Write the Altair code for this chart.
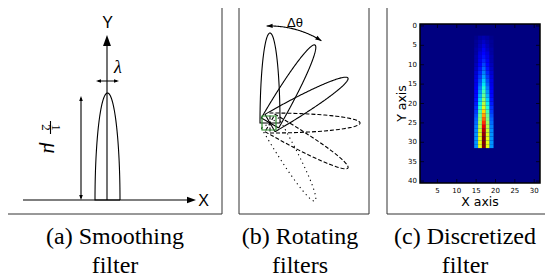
import math
import altair as alt
import pandas as pd

# ---------------- captions ----------------
cap_line1 = ["(a) Smoothing", "(b) Rotating", "(c) Discretized"]
cap_line2 = ["filter", "filters", "filter"]
cap_centers = [115.0, 300.0, 465.0]
cap_rows = [237.0, 266.0]

# ---------------- panel frames (page px) ----------------
frame_left = [7, 239, 387]
frame_right = [222, 369, 580]
frame_top = [7, 7, 7]
frame_bottom = [214, 214, 214]

# ---------------- panel (a): smoothing filter ----------------
a_origin = [107.0, 200.0]
a_xaxis_start = 23.0
a_xaxis_tip = 196.0
a_yaxis_tip = 35.0
a_lobe_base = [107.5, 200.0]
a_lobe_len = 107.0
a_lobe_hw = 12.5
a_lambda_arrow = [96.0, 119.0, 81.0]   # x0, x1, y
a_mu_arrow = [81.0, 96.0, 200.0]       # x, y0, y1

# ---------------- panel (b): rotating filters ----------------
b_pivot = [270.0, 123.0]
b_angles = [90, 60, 30, 0, -30, -60]
b_dash = ["solid", "solid", "solid", "dashed", "dashed", "dotted"]
b_len = 90.0
b_hw = 10.0
b_arc_r = 97.0
b_arc_from = 92.0
b_arc_to = 58.0
b_cell = [262.0, 116.0, 276.0, 130.0]

# ---------------- panel (c): discretized filter ----------------
heat_ncols = 31
heat_nrows = 41
heat_cols = [15, 16, 17, 18, 19]
heat_row0 = 3
heat_outer = [0.01, 0.02, 0.02, 0.03, 0.03, 0.04, 0.04, 0.05, 0.06, 0.07, 0.08, 0.09, 0.09, 0.10, 0.11,
              0.13, 0.14, 0.15, 0.17, 0.18, 0.20, 0.22, 0.23, 0.25, 0.26, 0.27, 0.27, 0.27, 0.27]
heat_inner = [0.03, 0.04, 0.05, 0.06, 0.08, 0.09, 0.10, 0.12, 0.14, 0.16, 0.18, 0.20, 0.22, 0.25, 0.27,
              0.30, 0.33, 0.36, 0.39, 0.43, 0.47, 0.50, 0.54, 0.57, 0.60, 0.62, 0.63, 0.63, 0.63]
heat_center = [0.04, 0.06, 0.08, 0.10, 0.12, 0.14, 0.16, 0.19, 0.22, 0.25, 0.28, 0.32, 0.35, 0.39, 0.43,
               0.47, 0.52, 0.57, 0.62, 0.68, 0.74, 0.80, 0.86, 0.91, 0.95, 0.98, 1.00, 1.00, 1.00]
heat_profiles = [heat_outer, heat_inner, heat_center, heat_inner, heat_outer]
heat_xticks = [5, 10, 15, 20, 25, 30]
heat_yticks = [0, 5, 10, 15, 20, 25, 30, 35, 40]
heat_xtitle = "X axis"
heat_ytitle = "Y axis"

jet_stops = [0.0, 0.11, 0.125, 0.34, 0.35, 0.375, 0.64, 0.65, 0.66, 0.89, 0.91, 1.0]
jet_colors = ["#000080", "#0000ff", "#0000ff", "#00dbff", "#00e5f7", "#14ffe2",
              "#eeff08", "#f7f500", "#ffec00", "#ff1300", "#e80000", "#800000"]

W, H = 537, 270
PX = alt.Scale(domain=[8, 8 + W], range=[0, W], nice=False, zero=False)
PY = alt.Scale(domain=[8, 8 + H], range=[0, H], nice=False, zero=False)


def half_ellipse(bx, by, length, hw, ang_deg, n=72):
    a = math.radians(ang_deg)
    d = (math.cos(a), -math.sin(a))
    p = (math.sin(a), math.cos(a))
    pts = []
    for k in range(n + 1):
        t = math.pi * k / n
        u = hw * math.cos(t)
        v = length * math.sin(t)
        pts.append((bx + u * p[0] + v * d[0], by + u * p[1] + v * d[1]))
    pts.append(pts[0])
    return pts


line_rows = []


def add_line(name, pts, dash="solid"):
    for i, (x, y) in enumerate(pts):
        line_rows.append(dict(shape=name, i=i, x=x, y=y, dash=dash))


head_rows = []


def add_head(x, y, ang, length):
    head_rows.append(dict(x=x, y=y, ang=ang % 360, sz=(2 * length) ** 2))


# panel a lines
ox, oy = a_origin
add_line("a_x", [(a_xaxis_start, oy), (a_xaxis_tip - 4, oy)])
add_head(a_xaxis_tip, oy, 90, 9)
add_line("a_y", [(ox, oy), (ox, a_yaxis_tip + 5)])
add_head(ox, a_yaxis_tip, 0, 11)
add_line("a_lobe", half_ellipse(a_lobe_base[0], a_lobe_base[1], a_lobe_len, a_lobe_hw, 90))
lx0, lx1, ly = a_lambda_arrow
add_line("a_lam", [(lx0 + 2, ly), (lx1 - 2, ly)])
add_head(lx0, ly, 270, 5)
add_head(lx1, ly, 90, 5)
mx, my0, my1 = a_mu_arrow
add_line("a_mu", [(mx, my0 + 2), (mx, my1 - 2)])
add_head(mx, my0, 0, 5)
add_head(mx, my1, 180, 5)
add_line("a_frac", [(50.5, 121.0), (50.5, 134.0)])

# panel b lobes
for k, (ang, ds) in enumerate(zip(b_angles, b_dash)):
    add_line(f"b_lobe{k}", half_ellipse(b_pivot[0], b_pivot[1], b_len, b_hw, ang), ds)

# panel b arc
arc_pts = []
n = 40
for k in range(n + 1):
    a = math.radians(b_arc_from + (b_arc_to - b_arc_from) * k / n)
    arc_pts.append((b_pivot[0] + b_arc_r * math.cos(a), b_pivot[1] - b_arc_r * math.sin(a)))
add_line("b_arc", arc_pts)
for (p_end, p_prev) in [(arc_pts[0], arc_pts[1]), (arc_pts[-1], arc_pts[-2])]:
    dx, dy = p_end[0] - p_prev[0], p_end[1] - p_prev[1]
    ang = math.degrees(math.atan2(dx, -dy))
    add_head(p_end[0], p_end[1], ang, 6)

lines_df = pd.DataFrame(line_rows)
heads_df = pd.DataFrame(head_rows)

frames_df = pd.DataFrame(dict(x=frame_left, x2=frame_right, y=frame_top, y2=frame_bottom))
cell_df = pd.DataFrame(dict(x=[b_cell[0]], x2=[b_cell[2]], y=[b_cell[1]], y2=[b_cell[3]]))

X = lambda f: alt.X(f, scale=PX, axis=None)
Y = lambda f: alt.Y(f, scale=PY, axis=None)

frames = alt.Chart(frames_df).mark_rect(fillOpacity=0, stroke="#333333", strokeWidth=1).encode(
    x=X("x:Q"), x2="x2:Q", y=Y("y:Q"), y2="y2:Q")

lines = alt.Chart(lines_df).mark_line(color="black", strokeWidth=1.1).encode(
    x=X("x:Q"), y=Y("y:Q"), detail="shape:N", order="i:Q",
    strokeDash=alt.StrokeDash("dash:N", scale=alt.Scale(domain=["solid", "dashed", "dotted"],
                                                       range=[[1, 0], [4, 2], [1.2, 3.5]]), legend=None))

heads = alt.Chart(heads_df).mark_point(shape="M0,0L-0.36,1L0.36,1Z", filled=True, color="black",
                                       opacity=1, strokeWidth=0).encode(
    x=X("x:Q"), y=Y("y:Q"), angle=alt.Angle("ang:Q", scale=None), size=alt.Size("sz:Q", scale=None))

cell = alt.Chart(cell_df).mark_rect(fillOpacity=0, stroke="#2e8b2e", strokeWidth=1.2).encode(
    x=X("x:Q"), x2="x2:Q", y=Y("y:Q"), y2="y2:Q")

sans_df = pd.DataFrame(dict(t=["Y", "X", "Δθ"], x=[107.5, 203.5, 295.0], y=[22.5, 200.5, 22.5],
                            s=[16, 16, 13]))
sans = alt.Chart(sans_df).mark_text(font="Liberation Sans", color="black", align="center",
                                    baseline="middle").encode(
    x=X("x:Q"), y=Y("y:Q"), text="t:N", size=alt.Size("s:Q", scale=None))

ital_df = pd.DataFrame(dict(t=["λ", "μ"], x=[118.0, 51.0], y=[68.0, 148.0], s=[18, 22], a=[0, 90]))
ital = alt.Chart(ital_df).mark_text(font="Liberation Serif", fontStyle="italic", color="black",
                                    align="center", baseline="middle").encode(
    x=X("x:Q"), y=Y("y:Q"), text="t:N", size=alt.Size("s:Q", scale=None),
    angle=alt.Angle("a:Q", scale=None))

frac_df = pd.DataFrame(dict(t=["1", "2"], x=[55.5, 45.5], y=[127.5, 127.5]))
frac = alt.Chart(frac_df).mark_text(font="Liberation Serif", fontSize=13, color="black", angle=90,
                                    align="center", baseline="middle").encode(
    x=X("x:Q"), y=Y("y:Q"), text="t:N")

cap_df = pd.DataFrame(dict(t=cap_line1 + cap_line2, x=cap_centers * 2,
                           y=[cap_rows[0]] * 3 + [cap_rows[1]] * 3))
caps = alt.Chart(cap_df).mark_text(font="Liberation Serif", fontSize=24, color="black",
                                   align="center", baseline="middle").encode(
    x=X("x:Q"), y=Y("y:Q"), text="t:N")

main = alt.layer(frames, lines, heads, cell, sans, ital, frac, caps)

# ---- heat map with its own scales ----
heat_rows = [dict(hx=0.5, hx2=heat_ncols + 0.5, hy=-0.5, hy2=heat_nrows - 0.5, v=0.0)]
for c, prof in zip(heat_cols, heat_profiles):
    for j, v in enumerate(prof):
        r = heat_row0 + j
        heat_rows.append(dict(hx=c - 0.5, hx2=c + 0.5, hy=r - 0.5, hy2=r + 0.5, v=v))
heat_df = pd.DataFrame(heat_rows)

HX = alt.Scale(domain=[0.5, heat_ncols + 0.5], range=[412, 532], nice=False, zero=False)
HY = alt.Scale(domain=[-0.5, heat_nrows - 0.5], range=[16, 175], nice=False, zero=False)
HXa = lambda f: alt.X(f, scale=HX, axis=None)
HYa = lambda f: alt.Y(f, scale=HY, axis=None)

heat = alt.Chart(heat_df).mark_rect(strokeWidth=0).encode(
    x=HXa("hx:Q"), x2="hx2:Q", y=HYa("hy:Q"), y2="hy2:Q",
    color=alt.Color("v:Q", scale=alt.Scale(domain=jet_stops, range=jet_colors, interpolate="rgb"),
                    legend=None))

frame_df = pd.DataFrame(dict(hx=[0.5], hx2=[heat_ncols + 0.5], hy=[-0.5], hy2=[heat_nrows - 0.5]))
heat_frame = alt.Chart(frame_df).mark_rect(fillOpacity=0, stroke="black", strokeWidth=1.5).encode(
    x=HXa("hx:Q"), x2="hx2:Q", y=HYa("hy:Q"), y2="hy2:Q")

# tick labels and inward tick marks placed through the heat-map scales
xt_df = pd.DataFrame(dict(hx=heat_xticks, hy=[heat_nrows - 0.5] * len(heat_xticks),
                          hyt=[-0.5] * len(heat_xticks), lab=[str(v) for v in heat_xticks]))
yt_df = pd.DataFrame(dict(hy=heat_yticks, hx=[0.5] * len(heat_yticks),
                          hxr=[heat_ncols + 0.5] * len(heat_yticks), lab=[str(v) for v in heat_yticks]))

xlab = alt.Chart(xt_df).mark_text(font="DejaVu Sans", fontSize=7, color="black", baseline="top",
                                  dy=4).encode(x=HXa("hx:Q"), y=HYa("hy:Q"), text="lab:N")
ylab = alt.Chart(yt_df).mark_text(font="DejaVu Sans", fontSize=7, color="black", align="right",
                                  baseline="middle", dx=-3).encode(x=HXa("hx:Q"), y=HYa("hy:Q"), text="lab:N")
xtick_b = alt.Chart(xt_df).mark_tick(orient="vertical", size=4, thickness=1, color="black",
                                     yOffset=-2).encode(x=HXa("hx:Q"), y=HYa("hy:Q"))
xtick_t = alt.Chart(xt_df).mark_tick(orient="vertical", size=4, thickness=1, color="black",
                                     yOffset=2).encode(x=HXa("hx:Q"), y=HYa("hyt:Q"))
ytick_l = alt.Chart(yt_df).mark_tick(orient="horizontal", size=4, thickness=1, color="black",
                                     xOffset=2).encode(x=HXa("hx:Q"), y=HYa("hy:Q"))
ytick_r = alt.Chart(yt_df).mark_tick(orient="horizontal", size=4, thickness=1, color="black",
                                     xOffset=-2).encode(x=HXa("hxr:Q"), y=HYa("hy:Q"))

title_df = pd.DataFrame(dict(t=[heat_xtitle, heat_ytitle], hx=[(heat_ncols + 1) / 2, 0.5],
                             hy=[heat_nrows - 0.5, (heat_nrows - 1) / 2]))
xtitle = alt.Chart(title_df.iloc[[0]]).mark_text(font="DejaVu Sans", fontSize=12.5, color="black",
                                                 baseline="middle", dy=19).encode(
    x=HXa("hx:Q"), y=HYa("hy:Q"), text="t:N")
ytitle = alt.Chart(title_df.iloc[[1]]).mark_text(font="DejaVu Sans", fontSize=12.5, color="black",
                                                 baseline="middle", angle=270, xOffset=-18).encode(
    x=HXa("hx:Q"), y=HYa("hy:Q"), text="t:N")

heat_group = alt.layer(heat, heat_frame, xtick_b, xtick_t, ytick_l, ytick_r, xlab, ylab, xtitle, ytitle)

chart = alt.layer(main, heat_group).resolve_scale(x="independent", y="independent").properties(
    width=W, height=H, padding=0, autosize=alt.AutoSizeParams(type="none")
).configure_view(strokeWidth=0)

chart.save("out.html", embed_options={"renderer": "svg", "actions": False})
